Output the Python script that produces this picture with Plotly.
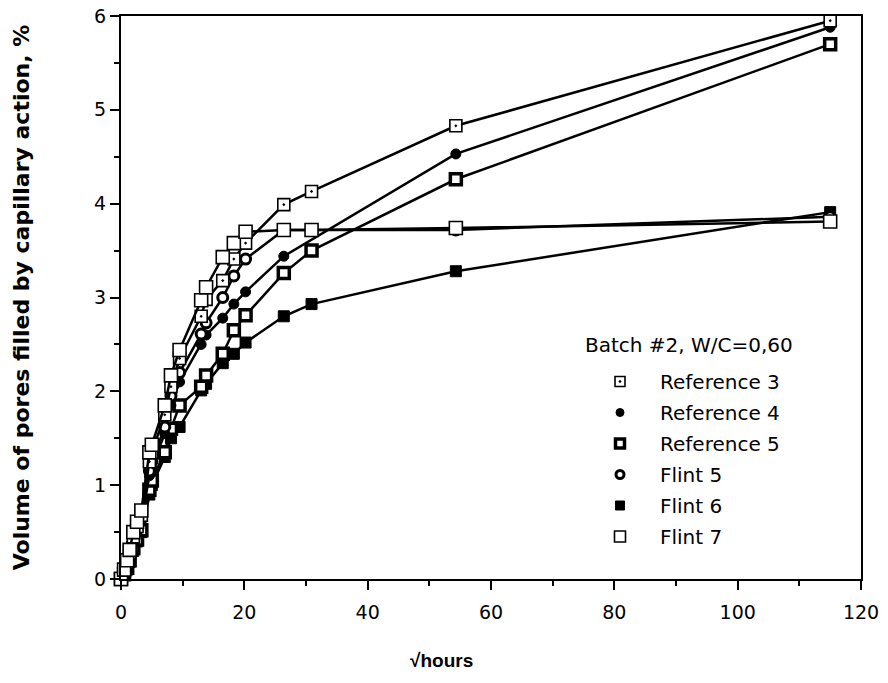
import plotly.graph_objects as go

# sqrt(hours)
x_vals = [0, 0.5, 1, 1.4, 2, 2.6, 3.3, 4.6, 5.0, 7.1, 8.1, 9.5, 13.0, 13.8, 16.5, 18.3, 20.2, 26.4, 30.9, 54.3, 115]

series_names = ["Reference 3", "Reference 4", "Reference 5", "Flint 5", "Flint 6", "Flint 7"]
ref3 = [0, 0.08, 0.18, 0.28, 0.45, 0.56, 0.68, 1.25, 1.35, 1.75, 2.05, 2.35, 2.80, 2.98, 3.18, 3.41, 3.58, 3.99, 4.13, 4.83, 5.95]
ref4 = [0, 0.07, 0.15, 0.25, 0.40, 0.50, 0.62, 1.10, 1.20, 1.55, 1.85, 2.10, 2.50, 2.60, 2.78, 2.93, 3.06, 3.44, None, 4.53, 5.88]
ref5 = [0, 0.05, 0.12, 0.20, 0.33, 0.42, 0.52, 0.95, 1.05, 1.35, 1.60, 1.85, 2.05, 2.17, 2.40, 2.65, 2.81, 3.26, 3.50, 4.26, 5.70]
flint5 = [0, 0.08, 0.17, 0.27, 0.42, 0.53, 0.65, 1.15, 1.25, 1.62, 1.95, 2.20, 2.61, 2.73, 3.00, 3.23, 3.41, 3.72, 3.72, 3.72, 3.86]
flint6 = [0, 0.05, 0.10, 0.18, 0.30, 0.40, 0.50, 0.90, 1.00, 1.30, 1.50, 1.62, 2.01, 2.08, 2.30, 2.40, 2.52, 2.80, 2.93, 3.28, 3.91]
flint7 = [0, 0.10, 0.20, 0.31, 0.50, 0.61, 0.73, 1.35, 1.43, 1.85, 2.17, 2.44, 2.97, 3.11, 3.43, 3.58, 3.70, 3.72, 3.72, 3.74, 3.81]

x_ticks = [0, 20, 40, 60, 80, 100, 120]
y_ticks = [0, 1, 2, 3, 4, 5, 6]

FONT = "DejaVu Sans, Liberation Sans, Arial, sans-serif"
TFONT = "Liberation Sans, Arial, Helvetica, sans-serif"

styles = {
    "Reference 3": dict(symbol="square-dot", color="white", size=12, line=dict(color="black", width=1.6)),
    "Reference 4": dict(symbol="circle", color="black", size=10, line=dict(color="black", width=1)),
    "Reference 5": dict(symbol="square", color="white", size=11, line=dict(color="black", width=3.5)),
    "Flint 5": dict(symbol="circle", color="white", size=10, line=dict(color="black", width=3)),
    "Flint 6": dict(symbol="square", color="black", size=11, line=dict(color="black", width=1)),
    "Flint 7": dict(symbol="square", color="white", size=13, line=dict(color="black", width=1.6)),
}
data = {"Reference 3": ref3, "Reference 4": ref4, "Reference 5": ref5,
        "Flint 5": flint5, "Flint 6": flint6, "Flint 7": flint7}

# the page body margin is removed below, so figure px == page px
W, H = 888, 683
PL, PR, PT, PB = 121, 861, 16, 579  # plot area in figure px


def px_to_paper(px, py):
    return (px - PL) / (PR - PL), (PB - py) / (PB - PT)


fig = go.Figure()
draw_order = ["Flint 6", "Reference 5", "Reference 4", "Flint 5", "Reference 3", "Flint 7"]
for name in draw_order:
    ys = data[name]
    xs = [x for x, y in zip(x_vals, ys) if y is not None]
    yy = [y for y in ys if y is not None]
    fig.add_trace(go.Scatter(x=xs, y=yy, mode="lines+markers", name=name,
                             line=dict(color="black", width=2.5),
                             marker=styles[name], showlegend=False, cliponaxis=False))

# legend entries (markers only)
for name in series_names:
    st = dict(styles[name])
    st["size"] = st["size"] - 2
    fig.add_trace(go.Scatter(x=[None], y=[None], mode="markers", name=name,
                             legendgroup=name, marker=st, showlegend=True))

bx, by = px_to_paper(689, 345)
fig.add_annotation(text="Batch #2, W/C=0,60", x=bx, y=by, xanchor="center", yanchor="middle",
                   xref="paper", yref="paper", showarrow=False,
                   font=dict(family=FONT, size=20, color="black"))

tx, ty = px_to_paper(441, 660)
fig.add_annotation(text="<b>√hours</b>", x=tx, y=ty, xanchor="center", yanchor="middle",
                   xref="paper", yref="paper", showarrow=False,
                   font=dict(family=TFONT, size=19, color="black"))

lx, ly = px_to_paper(580, 362)
fig.update_layout(
    width=W, height=H,
    margin=dict(l=PL, r=W - PR, t=PT, b=H - PB),
    paper_bgcolor="white", plot_bgcolor="white",
    font=dict(family=FONT, size=19, color="black"),
    legend=dict(x=lx, y=ly, xanchor="left", yanchor="top",
                font=dict(family=FONT, size=20, color="black"),
                bgcolor="rgba(0,0,0,0)", tracegroupgap=2, itemwidth=70),
    xaxis=dict(range=[0, 120], tickvals=x_ticks, ticktext=[str(v) for v in x_ticks],
               ticks="outside", ticklen=9, tickwidth=2, tickcolor="black",
               minor=dict(dtick=10, ticks="outside", ticklen=5, tickwidth=2, tickcolor="black"),
               showline=True, linecolor="black", linewidth=2, mirror=True,
               showgrid=False, zeroline=False, automargin=False, ticklabelstandoff=6,
               ticklabeloverflow="allow",
               tickfont=dict(family=FONT, size=19)),
    yaxis=dict(range=[0, 6], tickvals=y_ticks,
               ticks="outside", ticklen=9, tickwidth=2, tickcolor="black",
               minor=dict(dtick=0.5, ticks="outside", ticklen=5, tickwidth=2, tickcolor="black"),
               showline=True, linecolor="black", linewidth=2, mirror=True,
               showgrid=False, zeroline=False, automargin=False,
               ticklabeloverflow="allow",
               tickfont=dict(family=FONT, size=19),
               title=dict(text="<b>Volume of pores filled by capillary action, %</b>",
                          font=dict(family=FONT, size=22), standoff=58)),
)

fig.write_html("out.html", config={"displayModeBar": False},
               post_script="document.body.style.margin='0';document.body.style.overflow='hidden';")
